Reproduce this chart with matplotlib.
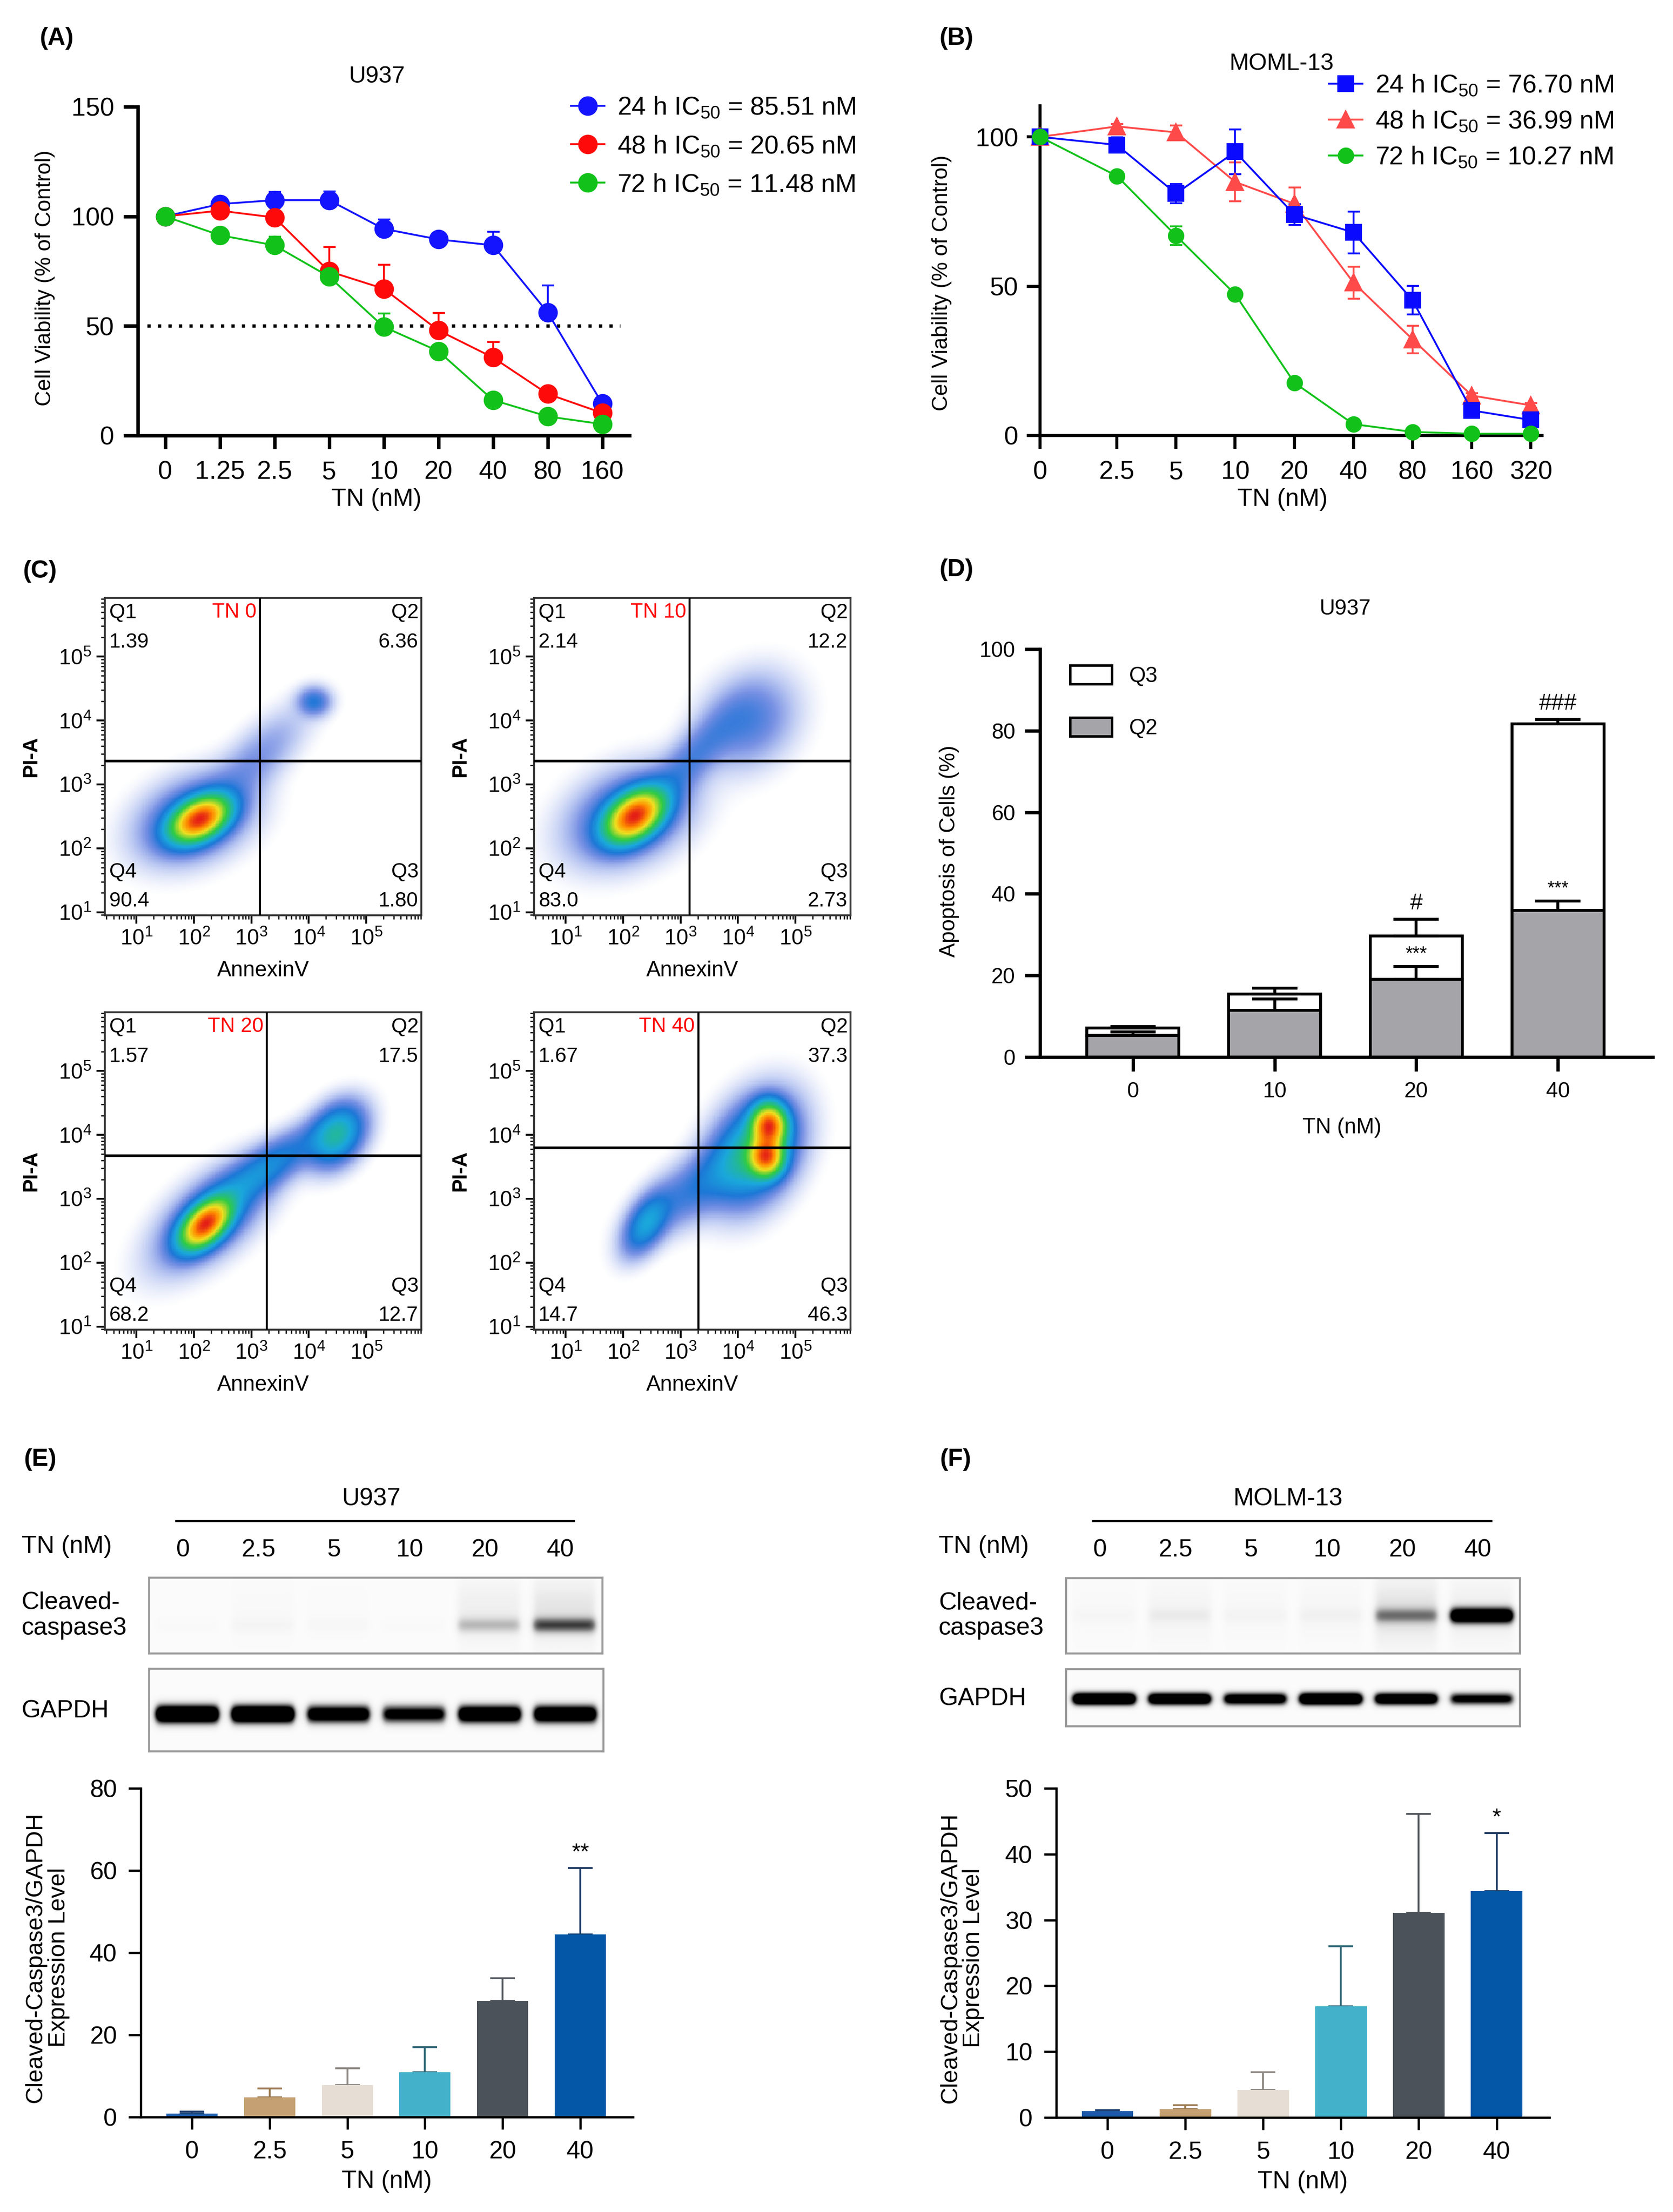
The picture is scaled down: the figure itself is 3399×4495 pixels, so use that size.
import numpy as np
import matplotlib
matplotlib.use('Agg')
import matplotlib.pyplot as plt
from matplotlib.colors import LinearSegmentedColormap, Normalize
from matplotlib.patches import Patch
from matplotlib.lines import Line2D

plt.rcParams['font.family'] = ['Liberation Sans', 'DejaVu Sans']
plt.rcParams['mathtext.fontset'] = 'custom'
plt.rcParams['mathtext.rm'] = 'Liberation Sans'
plt.rcParams['mathtext.default'] = 'regular'

NARROW = ['Liberation Sans Narrow', 'Liberation Sans', 'DejaVu Sans']

# ---------------- data ----------------
# (A) U937 viability
conc_a = ['0', '1.25', '2.5', '5', '10', '20', '40', '80', '160']
u937_24h = [100, 105.6, 107.4, 107.4, 94.3, 89.5, 86.8, 56.2, 14.6]
u937_24h_err = [0.5, 3.0, 3.8, 4.0, 4.3, 1.2, 6.2, 12.3, 1.5]
u937_48h = [100, 102.6, 99.5, 74.9, 67.0, 48.0, 35.6, 19.0, 10.3]
u937_48h_err = [0.5, 1.0, 4.5, 11.0, 11.0, 8.0, 7.0, 1.5, 1.0]
u937_72h = [100, 91.4, 86.8, 72.5, 49.6, 38.5, 16.2, 8.7, 5.2]
u937_72h_err = [0.5, 1.0, 4.0, 1.5, 6.0, 1.5, 1.0, 0.5, 0.5]
legend_a = [r'24 h IC$_{50}$ = 85.51 nM', r'48 h IC$_{50}$ = 20.65 nM',
            r'72 h IC$_{50}$ = 11.48 nM']

# (B) MOLM-13 viability
conc_b = ['0', '2.5', '5', '10', '20', '40', '80', '160', '320']
molm_24h = [100, 97.3, 81.0, 95.0, 74.0, 68.0, 45.3, 8.4, 5.2]
molm_24h_err = [1.0, 2.5, 3.2, 7.5, 3.5, 7.0, 4.8, 1.0, 1.0]
molm_48h = [100, 103.5, 101.5, 84.9, 77.6, 51.2, 32.2, 13.4, 10.1]
molm_48h_err = [1.0, 0.8, 2.3, 6.5, 5.5, 5.4, 4.6, 0.8, 0.8]
molm_72h = [100, 86.9, 66.9, 47.3, 17.7, 3.8, 1.2, 0.6, 0.6]
molm_72h_err = [0.5, 0.8, 3.2, 0.8, 0.8, 0.5, 0.3, 0.2, 0.2]
legend_b = [r'24 h IC$_{50}$ = 76.70 nM', r'48 h IC$_{50}$ = 36.99 nM',
            r'72 h IC$_{50}$ = 10.27 nM']

# (C) flow cytometry, log10 units: [cx, cy, sx, sy, rho, weight]
tn0_clusters = [[2.10, 2.45, 0.30, 0.21, 0.40, 1.00],
                [2.00, 2.45, 0.58, 0.40, 0.30, 0.14],
                [4.10, 4.30, 0.18, 0.14, 0.00, 0.10],
                [3.10, 3.40, 0.55, 0.50, 0.75, 0.05]]
tn10_clusters = [[2.20, 2.50, 0.30, 0.24, 0.40, 1.00],
                 [2.10, 2.50, 0.62, 0.44, 0.30, 0.14],
                 [4.20, 4.00, 0.50, 0.45, 0.20, 0.08],
                 [3.20, 3.40, 0.50, 0.50, 0.80, 0.07]]
tn20_clusters = [[2.20, 2.60, 0.26, 0.23, 0.50, 1.00],
                 [2.30, 2.70, 0.58, 0.48, 0.60, 0.14],
                 [3.30, 3.50, 0.60, 0.40, 0.80, 0.13],
                 [4.50, 4.00, 0.30, 0.30, 0.30, 0.25]]
tn40_clusters = [[4.55, 4.15, 0.18, 0.20, 0.00, 1.00],
                 [4.50, 3.65, 0.18, 0.18, 0.00, 0.90],
                 [4.30, 3.75, 0.45, 0.50, 0.30, 0.30],
                 [2.40, 2.60, 0.25, 0.30, 0.50, 0.18],
                 [3.30, 3.20, 0.60, 0.45, 0.70, 0.10]]
flow_doses = ['TN 0', 'TN 10', 'TN 20', 'TN 40']
q1_vals = ['1.39', '2.14', '1.57', '1.67']
q2_vals = ['6.36', '12.2', '17.5', '37.3']
q3_vals = ['1.80', '2.73', '12.7', '46.3']
q4_vals = ['90.4', '83.0', '68.2', '14.7']
gate_x = [3.15, 3.16, 3.27, 3.31]
gate_y = [3.37, 3.37, 3.68, 3.80]

# (D) apoptosis
conc_d = ['0', '10', '20', '40']
q2_mean = [5.3, 11.4, 19.1, 36.0]
q2_err = [0.8, 2.8, 3.1, 2.2]
q3_mean = [1.8, 4.0, 10.6, 45.7]
total_err = [0.4, 1.5, 4.1, 1.0]

# (E)/(F) western blots
conc_wb = ['0', '2.5', '5', '10', '20', '40']
u937_cleaved_band = [0.02, 0.04, 0.03, 0.02, 0.28, 0.65]
u937_cleaved_haze = [0.0, 0.02, 0.01, 0.0, 0.10, 0.16]
u937_gapdh_band = [1.0, 1.0, 0.75, 0.62, 0.85, 0.85]
u937_ratio = [0.86, 4.8, 7.8, 10.9, 28.3, 44.4]
u937_ratio_err = [0.4, 2.1, 4.1, 6.1, 5.5, 16.2]
molm_cleaved_band = [0.03, 0.07, 0.04, 0.05, 0.45, 1.6]
molm_cleaved_haze = [0.02, 0.06, 0.03, 0.04, 0.18, 0.10]
molm_gapdh_band = [1.0, 0.9, 0.75, 1.0, 0.85, 0.6]
molm_ratio = [1.0, 1.3, 4.2, 16.9, 31.1, 34.4]
molm_ratio_err = [0.1, 0.6, 2.7, 9.1, 15.0, 8.8]

# ---------------- figure ----------------
W, H = 3399, 4495
fig = plt.figure(figsize=(W / 300, H / 300), dpi=300)


def rect(x0, y0, x1, y1):
    return [x0 / W, 1 - y1 / H, (x1 - x0) / W, (y1 - y0) / H]


def ftext(x, y, s, **kw):
    kw.setdefault('ha', 'center')
    kw.setdefault('va', 'center')
    return fig.text(x / W, 1 - y / H, s, **kw)


def style_axes(ax, lw, tlen, pad, size, family=None):
    for sp in ['top', 'right']:
        ax.spines[sp].set_visible(False)
    for sp in ['left', 'bottom']:
        ax.spines[sp].set_linewidth(lw)
    ax.tick_params(width=lw, length=tlen, pad=pad, labelsize=size)
    if family:
        for lab in ax.get_xticklabels() + ax.get_yticklabels():
            lab.set_fontfamily(family)


# panel letters
for lab, x, y in [('(A)', 115, 78), ('(B)', 1943, 78), ('(C)', 81, 1161),
                  ('(D)', 1943, 1158), ('(E)', 82, 2966), ('(F)', 1941, 2966)]:
    ftext(x, y, lab, fontsize=12, fontweight='bold')

# ---- (A) ----
axA = fig.add_axes(rect(280, 217, 1279, 885))
pos_a = np.arange(len(conc_a))
for vals, errs, col in [(u937_24h, u937_24h_err, '#1414ff'),
                        (u937_48h, u937_48h_err, '#ff0a0a'),
                        (u937_72h, u937_72h_err, '#12c21a')]:
    axA.errorbar(pos_a, vals, yerr=[np.zeros(len(errs)), errs], color=col,
                 marker='o', ms=8.5, lw=0.9, elinewidth=0.9, capsize=3,
                 capthick=0.9, clip_on=False, zorder=3)
axA.hlines(50, -0.33, 8.33, colors='k', linestyles=(0, (1, 2.2)), lw=1.6)
axA.set_xlim(-0.5, 8.5)
axA.set_ylim(0, 150)
axA.set_xticks(pos_a, conc_a)
axA.set_yticks([0, 50, 100, 150])
style_axes(axA, 1.7, 6.5, 5.5, 12.5, NARROW)
axA.tick_params(axis='y', length=7, pad=4.5)
hA = [Line2D([], [], color=c, marker='o', ms=8.5, lw=0.9)
      for c in ['#1414ff', '#ff0a0a', '#12c21a']]
fig.legend(hA, legend_a, loc='upper left', bbox_to_anchor=(1160 / W, 1 - 195 / H),
           frameon=False, handlelength=1.3, handletextpad=0.5, labelspacing=0.55,
           borderaxespad=0, borderpad=0, prop={'family': NARROW, 'size': 12.5})
ftext(765, 155, 'U937', fontsize=11.5, family=NARROW)
ftext(765, 1015, 'TN (nM)', fontsize=12, family=NARROW)
ftext(92, 565, 'Cell Viability (% of Control)', fontsize=10.5, rotation=90)

# ---- (B) ----
axB = fig.add_axes(rect(2113, 215, 3133, 885))
pos_b = np.r_[0, 1.3 + np.arange(len(conc_b) - 1)]
for vals, errs, col, mk, ms in [(molm_48h, molm_48h_err, '#ff4a4a', '^', 7.5),
                                (molm_24h, molm_24h_err, '#0a0aff', 's', 7),
                                (molm_72h, molm_72h_err, '#12c21a', 'o', 7)]:
    axB.errorbar(pos_b, vals, yerr=errs, color=col, marker=mk, ms=ms, lw=0.9,
                 elinewidth=0.9, capsize=3, capthick=0.9, clip_on=False, zorder=3)
axB.set_xlim(0, 8.49)
axB.set_ylim(0, 110.4)
axB.set_xticks(pos_b, conc_b)
axB.set_yticks([0, 50, 100])
style_axes(axB, 1.5, 6.5, 5.5, 12.5, NARROW)
axB.tick_params(axis='y', length=6.5, pad=4)
hB = [Line2D([], [], color='#0a0aff', marker='s', ms=7, lw=0.9),
      Line2D([], [], color='#ff4a4a', marker='^', ms=7.5, lw=0.9),
      Line2D([], [], color='#12c21a', marker='o', ms=7, lw=0.9)]
fig.legend(hB, legend_b, loc='upper left', bbox_to_anchor=(2700 / W, 1 - 150 / H),
           frameon=False, handlelength=1.3, handletextpad=0.5, labelspacing=0.45,
           borderaxespad=0, borderpad=0, prop={'family': NARROW, 'size': 12.5})
ftext(2603, 130, 'MOML-13', fontsize=11.5, family=NARROW)
ftext(2606, 1015, 'TN (nM)', fontsize=12, family=NARROW)
ftext(1913, 575, 'Cell Viability (% of Control)', fontsize=10.5, rotation=90)

# ---- (C) ----
flow_cmap = LinearSegmentedColormap.from_list(
    'flow', [(0, '#4a72e4'), (0.25, '#1f48d2'), (0.45, '#1aa8dc'),
             (0.62, '#2fcb45'), (0.78, '#f0e020'), (0.9, '#ff8800'),
             (1, '#e42016')])
XL = (0.45, 5.96)
YL = (0.95, 5.92)
flow_rects = [(213, 1215, 856, 1860), (1085, 1215, 1728, 1860),
              (213, 2057, 856, 2702), (1085, 2057, 1728, 2702)]
all_clusters = [tn0_clusters, tn10_clusters, tn20_clusters, tn40_clusters]
xs = np.linspace(XL[0], XL[1], 230)
ys = np.linspace(YL[0], YL[1], 230)
GX, GY = np.meshgrid(xs, ys)
minor_x = [n + np.log10(k) for n in range(0, 6) for k in range(2, 10)
           if XL[0] < n + np.log10(k) < XL[1]]
minor_y = [n + np.log10(k) for n in range(0, 6) for k in range(2, 10)
           if YL[0] < n + np.log10(k) < YL[1]]
dec_labels = [r'$10^{%d}$' % n for n in range(1, 6)]
fnorm = Normalize(0.0, 1.0)

for i, (x0, y0, x1, y1) in enumerate(flow_rects):
    ax = fig.add_axes(rect(x0, y0, x1, y1))
    dens = np.zeros_like(GX)
    for cx, cy, sx, sy, rho, w in all_clusters[i]:
        dx = (GX - cx) / sx
        dy = (GY - cy) / sy
        q = (dx ** 2 - 2 * rho * dx * dy + dy ** 2) / (1 - rho ** 2)
        dens += w * np.exp(-0.5 * q)
    dens /= dens.max()
    v = dens ** 0.45
    rgba = flow_cmap(fnorm(v))
    rgba[..., 3] = np.clip((v - 0.05) / 0.3, 0, 1) ** 1.3
    ax.imshow(rgba, extent=[XL[0], XL[1], YL[0], YL[1]], origin='lower',
              aspect='auto', interpolation='nearest', zorder=1)
    ax.axvline(gate_x[i], color='k', lw=1.0, zorder=3)
    ax.axhline(gate_y[i], color='k', lw=1.3, zorder=3)
    ax.set_xlim(*XL)
    ax.set_ylim(*YL)
    ax.set_xticks(range(1, 6), dec_labels)
    ax.set_yticks(range(1, 6), dec_labels)
    ax.set_xticks(minor_x, minor=True)
    ax.set_yticks(minor_y, minor=True)
    ax.tick_params(which='major', length=4, width=0.9, pad=2.5, labelsize=10.5,
                   colors='k')
    ax.tick_params(which='minor', length=2, width=0.6)
    for lab in ax.get_xticklabels() + ax.get_yticklabels():
        lab.set_fontfamily(NARROW)
    for sp in ax.spines.values():
        sp.set_linewidth(0.9)
        sp.set_color('#333333')
    tk = dict(fontsize=10, family=NARROW, transform=ax.transAxes)
    ax.text(0.014, 0.955, 'Q1', ha='left', va='center', **tk)
    ax.text(0.014, 0.861, q1_vals[i], ha='left', va='center', **tk)
    ax.text(0.991, 0.955, 'Q2', ha='right', va='center', **tk)
    ax.text(0.991, 0.861, q2_vals[i], ha='right', va='center', **tk)
    ax.text(0.014, 0.137, 'Q4', ha='left', va='center', **tk)
    ax.text(0.014, 0.045, q4_vals[i], ha='left', va='center', **tk)
    ax.text(0.991, 0.137, 'Q3', ha='right', va='center', **tk)
    ax.text(0.991, 0.045, q3_vals[i], ha='right', va='center', **tk)
    tx = (gate_x[i] - 0.06 - XL[0]) / (XL[1] - XL[0])
    ax.text(tx, 0.955, flow_doses[i], ha='right', va='center', color='#ff0000',
            fontsize=10, family=NARROW, transform=ax.transAxes)
    ftext((x0 + x1) / 2, y1 + 113, 'AnnexinV', fontsize=10.5, family=NARROW)
    ftext(x0 - 150, (y0 + y1) / 2, 'PI-A', fontsize=10, fontweight='bold',
          rotation=90)

# ---- (D) ----
axD = fig.add_axes(rect(2113, 1319, 3358, 2148))
pos_d = np.arange(len(conc_d))
total = np.array(q2_mean) + np.array(q3_mean)
axD.bar(pos_d, q2_mean, width=0.65, color='#a5a5a9', edgecolor='k', lw=1.4, zorder=2)
axD.bar(pos_d, q3_mean, bottom=q2_mean, width=0.65, color='white', edgecolor='k',
        lw=1.4, zorder=2)
axD.errorbar(pos_d, q2_mean, yerr=[np.zeros(4), q2_err], fmt='none', ecolor='k',
             elinewidth=1.4, capsize=11, capthick=1.4, zorder=3)
axD.errorbar(pos_d, total, yerr=[np.zeros(4), total_err], fmt='none', ecolor='k',
             elinewidth=1.4, capsize=11, capthick=1.4, zorder=3)
axD.text(pos_d[2], q2_mean[2] + q2_err[2] + 0.8, '***', ha='center', va='bottom',
         fontsize=9)
axD.text(pos_d[3], q2_mean[3] + q2_err[3] + 0.8, '***', ha='center', va='bottom',
         fontsize=9)
axD.text(pos_d[2], total[2] + total_err[2] + 1.2, '#', ha='center', va='bottom',
         fontsize=11)
axD.text(pos_d[3], total[3] + total_err[3] + 1.2, '###', ha='center', va='bottom',
         fontsize=11)
axD.set_xlim(-0.656, 3.67)
axD.set_ylim(0, 100)
axD.set_xticks(pos_d, conc_d)
axD.set_yticks(range(0, 101, 20))
style_axes(axD, 1.6, 7, 5, 10.5)
axD.tick_params(axis='y', length=7.5, pad=4.5)
hD = [Patch(facecolor='white', edgecolor='k', lw=1.2),
      Patch(facecolor='#a5a5a9', edgecolor='k', lw=1.2)]
fig.legend(hD, ['Q3', 'Q2'], loc='upper left', bbox_to_anchor=(2174 / W, 1 - 1352 / H),
           frameon=False, handlelength=1.95, handleheight=0.95, handletextpad=0.8,
           labelspacing=1.45, borderaxespad=0, borderpad=0, fontsize=10.5)
ftext(2733, 1237, 'U937', fontsize=10.5)
ftext(2726, 2291, 'TN (nM)', fontsize=10.5)
ftext(1928, 1730, 'Apoptosis of Cells (%)', fontsize=10.5, rotation=90)

# ---- (E) and (F) ----
bar_cols = ['#1d5ba8', '#c4a072', '#e6ded4', '#43b1ca', '#4c5259', '#0357a6']
err_cols = ['#1d3d70', '#9a7a50', '#8a8580', '#2f6878', '#50555b', '#1a3660']


def blot(box, bands, yc, sig, gain, haze=None):
    ax = fig.add_axes(rect(*box))
    bx = np.linspace(0, 6, 600)
    by = np.linspace(0, 1, 120)
    img = np.full((120, 600), 0.03)
    for j, inten in enumerate(bands):
        hp = 0.5 * (np.tanh((bx - j - 0.09) / 0.05) - np.tanh((bx - j - 0.91) / 0.05))
        vp = np.exp(-0.5 * ((by - yc) / sig) ** 2)
        img += gain * inten * np.outer(vp, hp)
        if haze is not None:
            vh = np.exp(-0.5 * ((by - 0.45) / 0.3) ** 2)
            img += haze[j] * np.outer(vh, hp)
    img = np.clip(img, 0, 1)
    ax.imshow(img, cmap='Greys', vmin=0, vmax=1, extent=[0, 6, 1, 0],
              aspect='auto', interpolation='bilinear')
    ax.set_xlim(0, 6)
    ax.set_ylim(1, 0)
    ax.set_xticks([])
    ax.set_yticks([])
    for sp in ax.spines.values():
        sp.set_color('#9a9a9a')
        sp.set_linewidth(1.0)
    return ax


def wb_panel(cell, lx, blot1, blot2, bands1, haze1, bands2, yc1, yc2,
             bar_box, ratio, ratio_err, ymax, ystep, star, ylab_x):
    bx0, _, bx1, _ = blot1
    ftext((bx0 + bx1) / 2 - 10, 3046, cell, fontsize=12)
    fig.add_artist(Line2D([(bx0 + 55) / W, (bx1 - 58) / W], [1 - 3091 / H] * 2,
                          color='k', lw=1.0))
    ftext(lx, 3143, 'TN (nM)', fontsize=12, ha='left')
    for j, c in enumerate(conc_wb):
        ftext(bx0 + (j + 0.5) / 6 * (bx1 - bx0) - 8, 3150, c, fontsize=12)
    blot(blot1, bands1, yc1, 0.07, 1.0, haze1)
    blot(blot2, bands2, yc2, 0.075, 1.9)
    ftext(lx, (blot1[1] + blot1[3]) / 2, 'Cleaved-\ncaspase3', fontsize=12,
          ha='left', linespacing=1.15)
    ftext(lx, (blot2[1] + blot2[3]) / 2 + 2, 'GAPDH', fontsize=12, ha='left')

    ax = fig.add_axes(rect(*bar_box))
    pos = np.arange(len(conc_wb))
    ax.bar(pos, ratio, width=0.66, color=bar_cols, zorder=2)
    for j in pos:
        ax.errorbar(pos[j], ratio[j], yerr=[[0], [ratio_err[j]]], fmt='none',
                    ecolor=err_cols[j], elinewidth=0.9, capsize=6, capthick=0.9,
                    zorder=1)
    ax.text(pos[-1], ratio[-1] + ratio_err[-1] + ymax * 0.012, star,
            ha='center', va='bottom', fontsize=11)
    ax.set_xlim(-0.66, 5.68)
    ax.set_ylim(0, ymax)
    ax.set_xticks(pos, conc_wb)
    ax.set_yticks(np.arange(0, ymax + 1, ystep))
    style_axes(ax, 1.1, 6, 5.5, 12)
    cx = (bar_box[0] + bar_box[2]) / 2
    ftext(cx, bar_box[3] + 131, 'TN (nM)', fontsize=12)
    ftext(ylab_x, (bar_box[1] + bar_box[3]) / 2 + 10,
          'Cleaved-Caspase3/GAPDH\nExpression Level', fontsize=11.5,
          rotation=90, linespacing=1.05)


wb_panel('U937', 44, (303, 3206, 1224, 3360), (303, 3391, 1226, 3559),
         u937_cleaved_band, u937_cleaved_haze, u937_gapdh_band, 0.63, 0.55,
         (286, 3634, 1286, 4302), u937_ratio, u937_ratio_err, 80, 20, '**', 96)
wb_panel('MOLM-13', 1907, (2166, 3207, 3088, 3360), (2166, 3392, 3088, 3508),
         molm_cleaved_band, molm_cleaved_haze, molm_gapdh_band, 0.5, 0.52,
         (2146, 3634, 3148, 4303), molm_ratio, molm_ratio_err, 50, 10, '*', 1954)

fig.savefig('out.png', dpi=300)
